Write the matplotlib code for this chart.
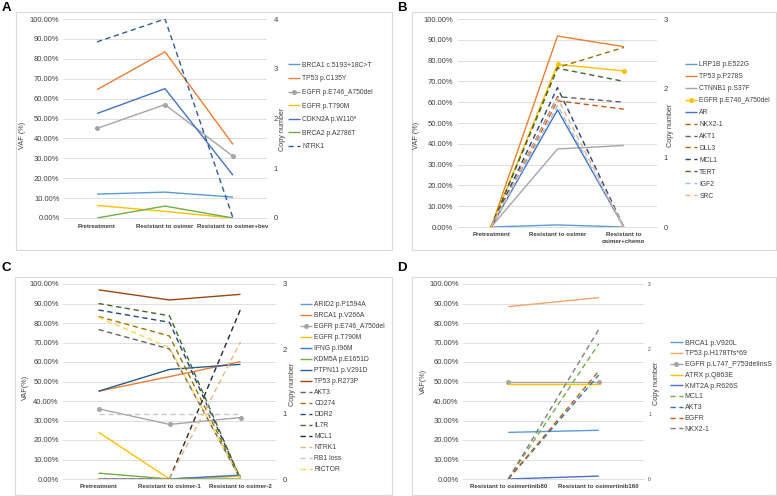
import matplotlib
matplotlib.use("Agg")
import matplotlib.pyplot as plt
from matplotlib.ticker import FuncFormatter
from matplotlib.patches import Rectangle

plt.rcParams['font.family'] = ['Liberation Sans', 'DejaVu Sans']

W, H = 777, 496

# ---------------- data ----------------
# Panel A
a_cats = ["Pretreatment", "Resistant to osimer", "Resistant to osimer+bev"]
a_vaf_names = ["BRCA1 c.5193+18C>T", "TP53 p.C135Y", "EGFR p.E746_A750del",
               "EGFR p.T790M", "CDKN2A p.W110*", "BRCA2 p.A2786T"]
a_vaf_values = [[12, 13, 10.5], [64.5, 83.5, 37], [45, 57, 31],
                [6.3, 3.3, 0], [52.5, 65, 21.5], [0, 6, 0]]
a_cn_names = ["NTRK1"]
a_cn_values = [[3.54, 4, 0]]

# Panel B
b_cats = ["Pretreatment", "Resistant to osimer", "Resistant to\nosimer+chemo"]
b_vaf_names = ["LRP1B p.E522G", "TP53 p.P278S", "CTNNB1 p.S37F",
               "EGFR p.E746_A750del", "AR"]
b_vaf_values = [[0, 1, 0], [0, 91.8, 86.7], [0, 37.5, 39.2],
                [0, 78.2, 75], [0, 56.3, 0]]
b_cn_names = ["NKX2-1", "AKT1", "DLL3", "MCL1", "TERT", "IGF2", "SRC"]
b_cn_values = [[0, 1.82, 1.70], [0, 1.88, 1.80], [0, 2.30, 2.59],
               [0, 2.01, 0], [0, 2.29, 2.10], [0, 1.75, 0], [0, 1.86, 0]]

# Panel C
c_cats = ["Pretreatment", "Resistant to osimer-1", "Resistant to osimer-2"]
c_vaf_names = ["ARID2 p.P1594A", "BRCA1 p.V266A", "EGFR p.E746_A750del",
               "EGFR p.T790M", "IFNG p.I96M", "KDM5A p.E1651D",
               "PTPN11 p.V291D", "TP53 p.R273P"]
c_vaf_values = [[0, 0, 1.5], [45, 52.5, 60.2], [36, 28, 31.5],
                [24, 0, 1.5], [0, 0, 2], [3, 0, 0],
                [45, 56.2, 58.8], [97, 91.8, 94.7]]
c_cn_names = ["AKT3", "CD274", "DDR2", "IL7R", "MCL1", "NTRK1", "RB1 loss", "RICTOR"]
c_cn_values = [[2.30, 2.0, 0], [2.50, 2.2, 0], [2.60, 2.41, 0], [2.70, 2.51, 0],
               [0, 0, 2.61], [0, 0, 2.11], [1, 1, 1], [2.49, 2.02, 0]]

# Panel D
d_cats = ["Resistant to osimertinib80", "Resistant to osimertinib160"]
d_vaf_names = ["BRCA1 p.V920L", "TP53 p.H178Tfs*69", "EGFR p.L747_P753delinsS",
               "ATRX p.Q863E", "KMT2A p.R626S"]
d_vaf_values = [[23.9, 25], [88.4, 93], [50, 50], [48.7, 48.7], [0, 1.5]]
d_cn_names = ["MCL1", "AKT3", "EGFR", "NKX2-1"]
d_cn_values = [[0, 2.08], [0, 1.60], [0, 1.66], [0, 2.30]]

# ---------------- styles ----------------
a_vaf_colors = ["#5B9BD5", "#ED7D31", "#A5A5A5", "#FFC000", "#4472C4", "#70AD47"]
a_vaf_marker = [False, False, True, False, False, False]
a_cn_colors = ["#2E5C9A"]

b_vaf_colors = ["#5B9BD5", "#ED7D31", "#A5A5A5", "#FFC000", "#4472C4"]
b_vaf_marker = [False, False, False, True, False]
b_cn_colors = ["#C55A11", "#636363", "#997300", "#264478", "#43682B", "#9DC3E6", "#F4B183"]

c_vaf_colors = ["#5B9BD5", "#ED7D31", "#A5A5A5", "#FFC000", "#4472C4", "#70AD47",
                "#255E91", "#9E480E"]
c_vaf_marker = [False, False, True, False, False, False, False, False]
c_cn_colors = ["#636363", "#997300", "#264478", "#43682B", "#262626", "#F4B183",
               "#C9C9C9", "#FFD34D"]

d_vaf_colors = ["#5B9BD5", "#F4A46E", "#A5A5A5", "#FFC000", "#4472C4"]
d_vaf_marker = [False, False, True, False, False]
d_cn_colors = ["#70AD47", "#2E75B6", "#C55A11", "#7F7F7F"]

GRID = "#D9D9D9"
TXT = "#404040"
fig = plt.figure(figsize=(W / 100, H / 100), dpi=100)


def rect(l, t, r, b):
    return [l / W, 1 - b / H, (r - l) / W, (b - t) / H]


def panel(ax_px, cats, vaf_names, vaf_values, vaf_colors, vaf_marker,
          cn_names, cn_values, cn_colors, cn_max, leg_xy, leg_ls, leg_fs,
          lpad, rpad, bpad, rfs, vaf_lab, vaf_xy, cn_xy):
    ax = fig.add_axes(rect(*ax_px))
    x = list(range(len(cats)))
    handles = []
    for name, vals, col, mk in zip(vaf_names, vaf_values, vaf_colors, vaf_marker):
        h, = ax.plot(x, vals, color=col, lw=1.0, label=name,
                     marker='o' if mk else None, ms=2.6, solid_capstyle='butt')
        handles.append(h)
    ax.set_xlim(-0.5, len(cats) - 0.5)
    ax.set_ylim(0, 100)
    ax.set_yticks(range(0, 101, 10))
    ax.yaxis.set_major_formatter(FuncFormatter(lambda v, _: f"{v:.2f}%"))
    ax.set_xticks(x)
    ax.set_xticklabels(cats, fontsize=4.4, fontweight='bold', color=TXT,
                       linespacing=1.5)
    ax.tick_params(axis='y', length=0, labelsize=5.5, labelcolor=TXT, pad=lpad)
    ax.tick_params(axis='x', length=0, pad=bpad)
    ax.grid(axis='y', color=GRID, lw=0.6)
    ax.set_axisbelow(True)
    for s in ['left', 'right', 'top']:
        ax.spines[s].set_visible(False)
    ax.spines['bottom'].set_color(GRID)
    ax.spines['bottom'].set_linewidth(0.6)

    ax2 = ax.twinx()
    for name, vals, col in zip(cn_names, cn_values, cn_colors):
        h, = ax2.plot(x, vals, color=col, lw=1.0, label=name, dashes=(3.8, 2.6))
        handles.append(h)
    ax2.set_ylim(0, cn_max)
    ax2.set_yticks(range(0, cn_max + 1))
    ax2.tick_params(axis='y', length=0, labelsize=rfs, labelcolor=TXT, pad=rpad)
    for s in ax2.spines.values():
        s.set_visible(False)

    lx, ly = leg_xy
    ax2.legend(handles=handles, loc='upper left',
               bbox_to_anchor=(lx / W, 1 - ly / H), bbox_transform=fig.transFigure,
               frameon=False, fontsize=leg_fs, labelspacing=leg_ls,
               handlelength=1.8, handletextpad=0.3, borderpad=0, borderaxespad=0,
               labelcolor=TXT)
    fig.text(vaf_xy[0] / W, 1 - vaf_xy[1] / H, vaf_lab, rotation=90,
             ha='center', va='center', fontsize=5.2, color=TXT)
    fig.text(cn_xy[0] / W, 1 - cn_xy[1] / H, "Copy number", rotation=90,
             ha='center', va='center', fontsize=5.2, color=TXT)
    return ax


# frames
for (l, t, r, b) in [(16, 12, 392, 250), (412, 12, 776, 250),
                     (15, 277, 392, 495), (412, 277, 776, 495)]:
    fig.patches.append(Rectangle((l / W, 1 - b / H), (r - l) / W, (b - t) / H,
                                 transform=fig.transFigure, fill=False,
                                 edgecolor=GRID, lw=0.8))

panel((63, 19, 267, 218), a_cats, a_vaf_names, a_vaf_values, a_vaf_colors,
      a_vaf_marker, a_cn_names, a_cn_values, a_cn_colors, 4,
      (288, 61.8), 0.97, 4.9, 2.5, 5, 4.3, 5.5, "VAF (%)", (23, 135), (282, 129))

panel((458, 19, 657, 227), b_cats, b_vaf_names, b_vaf_values, b_vaf_colors,
      b_vaf_marker, b_cn_names, b_cn_values, b_cn_colors, 3,
      (685, 61.1), 0.73, 4.9, 3.5, 4.5, 3.8, 5.5, "VAF (%)", (416, 135), (670, 125))

panel((63, 284, 276, 479), c_cats, c_vaf_names, c_vaf_values, c_vaf_colors,
      c_vaf_marker, c_cn_names, c_cn_values, c_cn_colors, 3,
      (300, 301.1), 0.59, 4.9, 3, 5, 3.8, 5.5, "VAF(%)", (25, 387), (293, 384))

panel((463, 284, 644, 479), d_cats, d_vaf_names, d_vaf_values, d_vaf_colors,
      d_vaf_marker, d_cn_names, d_cn_values, d_cn_colors, 3,
      (670, 339.7), 0.54, 5.0, 3, 3, 3.8, 3.5, "VAF(%)", (423, 381), (657, 383))

for lab, (px, py) in zip("ABCD", [(2, 2), (397, 2), (2, 262), (397, 262)]):
    fig.text(px / W, 1 - py / H, lab, fontsize=9.5, fontweight='bold',
             ha='left', va='top', color='black')

fig.savefig("out.png", dpi=100, facecolor='white')
